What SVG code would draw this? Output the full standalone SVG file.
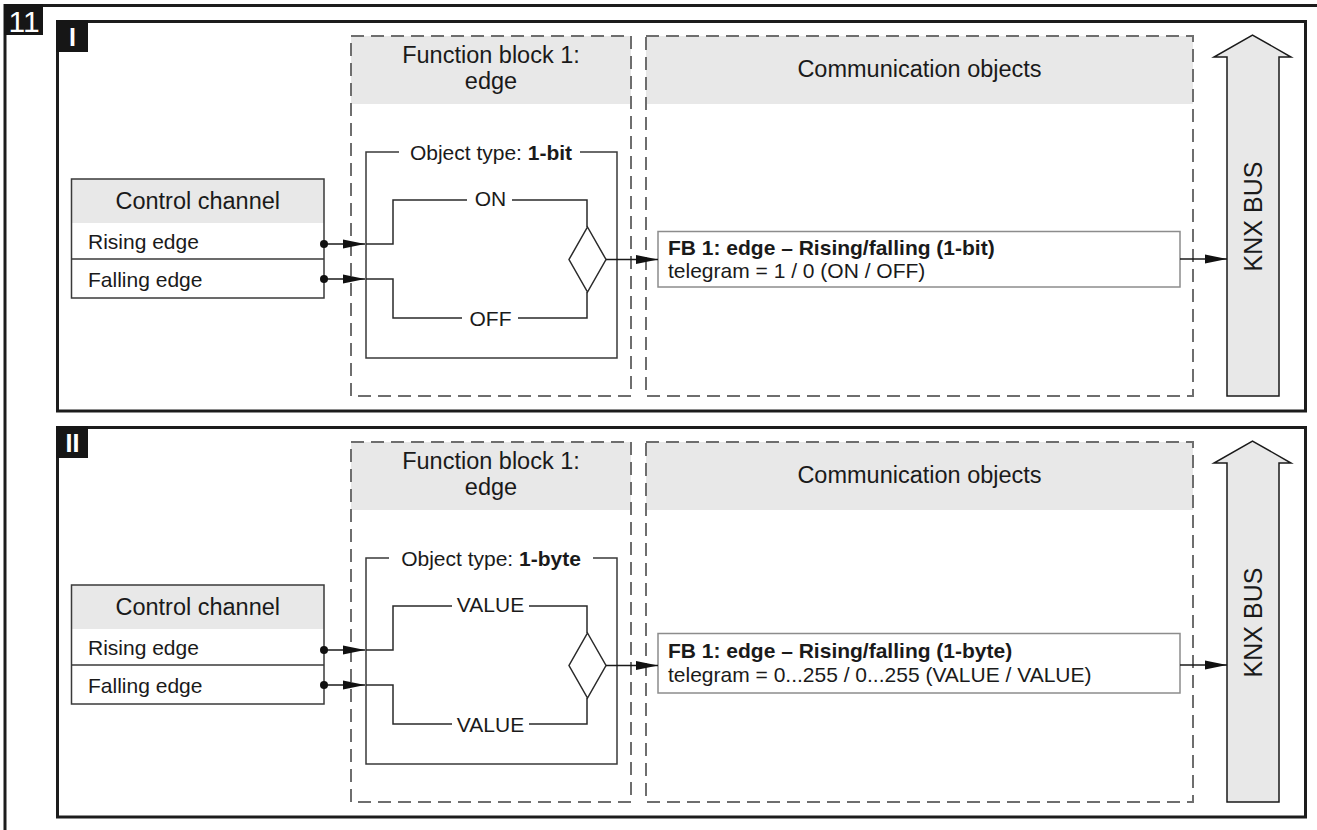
<svg xmlns="http://www.w3.org/2000/svg" width="1317" height="830" viewBox="0 0 1317 830">
  <style>
    text { font-family: "Liberation Sans", Arial, Helvetica, sans-serif; fill: #1a1a1a; }
    .hdr { font-size: 23.5px; text-anchor: middle; }
    .lbl { font-size: 21px; }
    .mid { text-anchor: middle; }
    .b { font-weight: bold; }
    .frame { fill: none; stroke: #1c1c1c; stroke-width: 3; }
    .tag { fill: #161616; }
    .tagtxt { fill: #ffffff; font-weight: bold; font-size: 25px; text-anchor: middle; }
    .zone { fill: none; stroke: #6e6e6e; stroke-width: 2; stroke-dasharray: 13 7; }
    .band { fill: #e8e8e8; }
    .box { fill: none; stroke: #3a3a3a; stroke-width: 1.5; }
    .line { fill: none; stroke: #2a2a2a; stroke-width: 1.5; }
    .arr { fill: none; stroke: #1a1a1a; stroke-width: 1.5; marker-end: url(#tip); }
    .dot { fill: #111111; }
    .bus { fill: #e8e8e8; stroke: #1a1a1a; stroke-width: 1.5; }
    .row { fill: #ffffff; stroke: #8c8c8c; stroke-width: 1.5; }
    .bustxt { font-size: 25px; text-anchor: middle; }
  </style>
  <defs>
    <marker id="tip" markerUnits="userSpaceOnUse" markerWidth="22" markerHeight="10" refX="22" refY="5" orient="auto">
      <path d="M0,0.5 L22,5 L0,9.5 Z" fill="#111111"/>
    </marker>
  </defs>

  <rect width="1317" height="830" fill="#ffffff"/>

  <!-- figure frame with number tag -->
  <g id="figure">
    <path class="frame" d="M5,830 V5.5 H1317"/>
    <rect class="tag" x="4" y="4" width="39" height="31"/>
    <text x="8.5" y="32" style="fill:#ffffff;font-size:30px">11</text>
  </g>

  <!-- ===== Panel I : 1-bit ===== -->
  <g id="panel-1">
    <rect class="frame" x="57.5" y="21.5" width="1248" height="389.5"/>
    <rect class="tag" x="56" y="20" width="32" height="32"/>
    <text class="tagtxt" x="72.5" y="46">I</text>

    <g id="p1-fb-zone">
      <rect class="band" x="351" y="36" width="280" height="68"/>
      <rect class="zone" x="351" y="36" width="280" height="360"/>
      <text class="hdr" x="491" y="63">Function block 1:</text>
      <text class="hdr" x="491" y="89">edge</text>
    </g>

    <g id="p1-co-zone">
      <rect class="band" x="646" y="36" width="547" height="68"/>
      <rect class="zone" x="646" y="36" width="547" height="360"/>
      <text class="hdr" x="919.5" y="77">Communication objects</text>
    </g>

    <g id="p1-control">
      <rect class="band" x="71.5" y="179" width="252.5" height="44"/>
      <rect class="box" x="71.5" y="179" width="252.5" height="119"/>
      <line class="box" x1="71.5" y1="259" x2="324" y2="259"/>
      <text class="hdr" x="197.75" y="209">Control channel</text>
      <text class="lbl" x="88" y="249">Rising edge</text>
      <text class="lbl" x="88" y="287">Falling edge</text>
    </g>

    <g id="p1-object">
      <path class="box" d="M399,152 H366 V358 H617 V152 H580"/>
      <text class="lbl mid" x="491" y="160">Object type: <tspan class="b">1-bit</tspan></text>
      <path class="line" d="M366,244 H393 V200 H467 M512,200 H587 V227"/>
      <path class="line" d="M366,279 H393 V318 H462 M518,318 H587 V292"/>
      <text class="lbl mid" x="490.5" y="206">ON</text>
      <text class="lbl mid" x="490.5" y="325.5">OFF</text>
      <polygon class="line" points="587.5,227 606,259.5 587.5,292 569,259.5" style="fill:#ffffff"/>
    </g>

    <g id="p1-object-row">
      <rect class="row" x="658" y="231.5" width="522" height="55.5"/>
      <text class="lbl b" x="668" y="255">FB 1: edge – Rising/falling (1-bit)</text>
      <text class="lbl" x="668" y="278">telegram = 1 / 0 (ON / OFF)</text>
    </g>

    <g id="p1-bus">
      <path class="bus" d="M1227,396 V57 H1214 L1252.5,35 L1291,57 H1279 V396 Z"/>
      <text class="bustxt" transform="translate(1262,216.5) rotate(-90)">KNX BUS</text>
    </g>

    <g id="p1-connectors">
      <path class="arr" d="M324,244 H365"/>
      <path class="arr" d="M324,279 H365"/>
      <path class="arr" d="M606,259.5 H658"/>
      <path class="arr" d="M1180,259 H1227"/>
      <circle class="dot" cx="324" cy="244" r="4"/>
      <circle class="dot" cx="324" cy="279" r="4"/>
    </g>
  </g>

  <!-- ===== Panel II : 1-byte ===== -->
  <g id="panel-2" transform="translate(0,406)">
    <rect class="frame" x="57.5" y="21.5" width="1248" height="389.5"/>
    <rect class="tag" x="56" y="20" width="32" height="32"/>
    <text class="tagtxt" x="72.5" y="46">II</text>

    <g id="p2-fb-zone">
      <rect class="band" x="351" y="36" width="280" height="68"/>
      <rect class="zone" x="351" y="36" width="280" height="360"/>
      <text class="hdr" x="491" y="63">Function block 1:</text>
      <text class="hdr" x="491" y="89">edge</text>
    </g>

    <g id="p2-co-zone">
      <rect class="band" x="646" y="36" width="547" height="68"/>
      <rect class="zone" x="646" y="36" width="547" height="360"/>
      <text class="hdr" x="919.5" y="77">Communication objects</text>
    </g>

    <g id="p2-control">
      <rect class="band" x="71.5" y="179" width="252.5" height="44"/>
      <rect class="box" x="71.5" y="179" width="252.5" height="119"/>
      <line class="box" x1="71.5" y1="259" x2="324" y2="259"/>
      <text class="hdr" x="197.75" y="209">Control channel</text>
      <text class="lbl" x="88" y="249">Rising edge</text>
      <text class="lbl" x="88" y="287">Falling edge</text>
    </g>

    <g id="p2-object">
      <path class="box" d="M389,152 H366 V358 H617 V152 H593"/>
      <text class="lbl mid" x="491" y="160">Object type: <tspan class="b">1-byte</tspan></text>
      <path class="line" d="M366,244 H393 V200 H452 M529,200 H587 V227"/>
      <path class="line" d="M366,279 H393 V318 H452 M529,318 H587 V292"/>
      <text class="lbl mid" x="490.5" y="206">VALUE</text>
      <text class="lbl mid" x="490.5" y="325.5">VALUE</text>
      <polygon class="line" points="587.5,227 606,259.5 587.5,292 569,259.5" style="fill:#ffffff"/>
    </g>

    <g id="p2-object-row">
      <rect class="row" x="658" y="227.5" width="522" height="59.5"/>
      <text class="lbl b" x="668" y="251.5">FB 1: edge – Rising/falling (1-byte)</text>
      <text class="lbl" x="668" y="276">telegram = 0...255 / 0...255 (VALUE / VALUE)</text>
    </g>

    <g id="p2-bus">
      <path class="bus" d="M1227,396 V57 H1214 L1252.5,35 L1291,57 H1279 V396 Z"/>
      <text class="bustxt" transform="translate(1262,216.5) rotate(-90)">KNX BUS</text>
    </g>

    <g id="p2-connectors">
      <path class="arr" d="M324,244 H365"/>
      <path class="arr" d="M324,279 H365"/>
      <path class="arr" d="M606,259.5 H658"/>
      <path class="arr" d="M1180,259 H1227"/>
      <circle class="dot" cx="324" cy="244" r="4"/>
      <circle class="dot" cx="324" cy="279" r="4"/>
    </g>
  </g>
</svg>
